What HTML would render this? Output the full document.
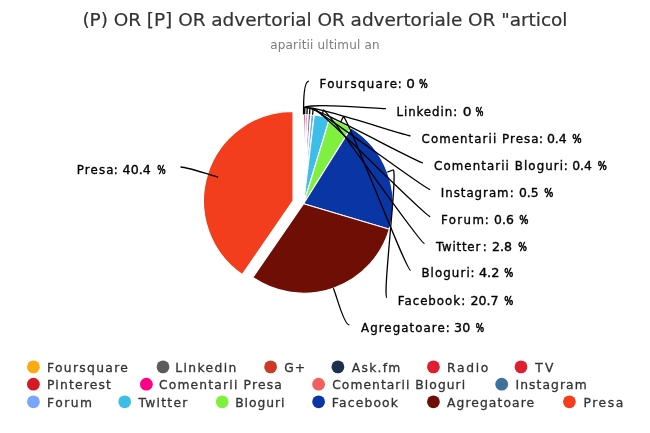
<!DOCTYPE html>
<html><head><meta charset="utf-8"><title>chart</title><style>html,body{margin:0;padding:0;background:#fff}</style></head><body>
<svg width="650" height="433" viewBox="0 0 650 433" style="display:block;font-family:'DejaVu Sans','Liberation Sans',sans-serif">
<rect width="650" height="433" fill="#fff"/>
<text x="82.40" y="26.0" font-size="18.5" fill="#333" stroke="#333" stroke-width="0.2" textLength="485.03" lengthAdjust="spacing">(P) OR [P] OR advertorial OR advertoriale OR &quot;articol</text>
<text x="270.15" y="49.2" font-size="12" fill="#7c7c7c" textLength="109.47" lengthAdjust="spacing">aparitii ultimul an</text>
<path d="M303.6,203.75L303.60,114.25A89.5,89.5 0 0 1 305.85,114.28Z" fill="#FF0084" stroke="#fff" stroke-width="1.5" stroke-linejoin="round"/>
<path d="M303.6,203.75L305.85,114.28A89.5,89.5 0 0 1 308.10,114.36Z" fill="#F26060" stroke="#fff" stroke-width="1.5" stroke-linejoin="round"/>
<path d="M303.6,203.75L308.10,114.36A89.5,89.5 0 0 1 310.90,114.55Z" fill="#3F729B" stroke="#fff" stroke-width="1.5" stroke-linejoin="round"/>
<path d="M303.6,203.75L310.90,114.55A89.5,89.5 0 0 1 314.26,114.89Z" fill="#78A6F8" stroke="#fff" stroke-width="1.5" stroke-linejoin="round"/>
<path d="M303.6,203.75L314.26,114.89A89.5,89.5 0 0 1 329.65,118.12Z" fill="#3DBEE8" stroke="#fff" stroke-width="1.1" stroke-linejoin="round"/>
<path d="M303.6,203.75L329.65,118.12A89.5,89.5 0 0 1 351.08,127.88Z" fill="#80F040" stroke="#fff" stroke-width="1.1" stroke-linejoin="round"/>
<path d="M303.6,203.75L351.08,127.88A89.5,89.5 0 0 1 389.39,229.26Z" fill="#0A35A5" stroke="#fff" stroke-width="1.1" stroke-linejoin="round"/>
<path d="M303.6,203.75L389.39,229.26A89.5,89.5 0 0 1 252.83,277.46Z" fill="#6E0E05" stroke="#fff" stroke-width="1.1" stroke-linejoin="round"/>
<path d="M303.6,203.75L252.83,277.46A89.5,89.5 0 0 1 303.60,114.25Z" fill="#F23E1C" stroke="#fff" stroke-width="1.1" stroke-linejoin="round" transform="translate(-10.6,-2.9)"/>
<path d="M308.9,81.1C303.9,81.1 303.60,102.25 303.60,108.25L303.60,114.25" fill="none" stroke="#000" stroke-width="1.3"/>
<path d="M385.9,108.7C380.9,108.7 303.60,102.25 303.60,108.25L303.60,114.25" fill="none" stroke="#000" stroke-width="1.3"/>
<path d="M410.5,135.8C405.5,135.8 304.88,102.26 304.80,108.26L304.72,114.26" fill="none" stroke="#000" stroke-width="1.3"/>
<path d="M423.0,162.9C418.0,162.9 307.43,102.32 307.20,108.32L306.97,114.31" fill="none" stroke="#000" stroke-width="1.3"/>
<path d="M430.2,189.7C425.2,189.7 310.29,102.47 309.90,108.46L309.50,114.44" fill="none" stroke="#000" stroke-width="1.3"/>
<path d="M430.2,216.6C425.2,216.6 313.79,102.76 313.18,108.73L312.58,114.70" fill="none" stroke="#000" stroke-width="1.3"/>
<path d="M424.5,243.6C419.5,243.6 324.50,104.42 323.26,110.30L322.02,116.17" fill="none" stroke="#000" stroke-width="1.3"/>
<path d="M410.6,270.3C405.6,270.3 345.66,111.37 343.17,116.83L340.69,122.30" fill="none" stroke="#000" stroke-width="1.3"/>
<path d="M387.0,297.7C382.0,297.7 398.55,167.87 392.93,169.99L387.32,172.11" fill="none" stroke="#000" stroke-width="1.3"/>
<path d="M349.3,325.0C344.3,325.0 337.38,299.46 335.38,293.81L333.39,288.15" fill="none" stroke="#000" stroke-width="1.3"/>
<path d="M180.5,167.0C185.5,167.0 206.68,173.60 212.41,175.38L218.14,177.16" fill="none" stroke="#000" stroke-width="1.3"/>
<text x="319.50" y="88.0" font-size="11.8" fill="#000" stroke="#000" stroke-width="0.35" textLength="77.51" lengthAdjust="spacing">Foursquare</text>
<text x="397.68" y="88.0" font-size="11.8" fill="#000" stroke="#000" stroke-width="0.35">:</text>
<text x="406.29" y="88.0" font-size="11.8" fill="#000" stroke="#000" stroke-width="0.35" textLength="8.67" lengthAdjust="spacingAndGlyphs">0</text>
<text x="419.03" y="88.0" font-size="11.8" fill="#000" stroke="#000" stroke-width="0.6" textLength="8.76" lengthAdjust="spacingAndGlyphs">%</text>
<text x="396.50" y="115.6" font-size="11.8" fill="#000" stroke="#000" stroke-width="0.35" textLength="55.61" lengthAdjust="spacing">Linkedin</text>
<text x="453.33" y="115.6" font-size="11.8" fill="#000" stroke="#000" stroke-width="0.35">:</text>
<text x="462.77" y="115.6" font-size="11.8" fill="#000" stroke="#000" stroke-width="0.35" textLength="8.83" lengthAdjust="spacingAndGlyphs">0</text>
<text x="475.54" y="115.6" font-size="11.8" fill="#000" stroke="#000" stroke-width="0.6" textLength="7.95" lengthAdjust="spacingAndGlyphs">%</text>
<text x="421.57" y="142.7" font-size="11.8" fill="#000" stroke="#000" stroke-width="0.35" textLength="116.90" lengthAdjust="spacing">Comentarii Presa</text>
<text x="539.07" y="142.7" font-size="11.8" fill="#000" stroke="#000" stroke-width="0.35">:</text>
<text x="546.90" y="142.7" font-size="11.8" fill="#000" stroke="#000" stroke-width="0.35" textLength="19.94" lengthAdjust="spacingAndGlyphs">0.4</text>
<text x="572.31" y="142.7" font-size="11.8" fill="#000" stroke="#000" stroke-width="0.6" textLength="9.37" lengthAdjust="spacingAndGlyphs">%</text>
<text x="434.12" y="169.8" font-size="11.8" fill="#000" stroke="#000" stroke-width="0.35" textLength="128.90" lengthAdjust="spacing">Comentarii Bloguri</text>
<text x="563.68" y="169.8" font-size="11.8" fill="#000" stroke="#000" stroke-width="0.35">:</text>
<text x="572.15" y="169.8" font-size="11.8" fill="#000" stroke="#000" stroke-width="0.35" textLength="19.67" lengthAdjust="spacingAndGlyphs">0.4</text>
<text x="597.63" y="169.8" font-size="11.8" fill="#000" stroke="#000" stroke-width="0.6" textLength="9.06" lengthAdjust="spacingAndGlyphs">%</text>
<text x="440.86" y="196.6" font-size="11.8" fill="#000" stroke="#000" stroke-width="0.35" textLength="67.71" lengthAdjust="spacing">Instagram</text>
<text x="509.66" y="196.6" font-size="11.8" fill="#000" stroke="#000" stroke-width="0.35">:</text>
<text x="519.02" y="196.6" font-size="11.8" fill="#000" stroke="#000" stroke-width="0.35" textLength="19.64" lengthAdjust="spacingAndGlyphs">0.5</text>
<text x="544.34" y="196.6" font-size="11.8" fill="#000" stroke="#000" stroke-width="0.6" textLength="9.04" lengthAdjust="spacingAndGlyphs">%</text>
<text x="440.88" y="223.5" font-size="11.8" fill="#000" stroke="#000" stroke-width="0.35" textLength="43.12" lengthAdjust="spacing">Forum</text>
<text x="484.83" y="223.5" font-size="11.8" fill="#000" stroke="#000" stroke-width="0.35">:</text>
<text x="494.13" y="223.5" font-size="11.8" fill="#000" stroke="#000" stroke-width="0.35" textLength="19.69" lengthAdjust="spacingAndGlyphs">0.6</text>
<text x="519.31" y="223.5" font-size="11.8" fill="#000" stroke="#000" stroke-width="0.6" textLength="9.20" lengthAdjust="spacingAndGlyphs">%</text>
<text x="436.00" y="250.5" font-size="11.8" fill="#000" stroke="#000" stroke-width="0.35" textLength="44.26" lengthAdjust="spacing">Twitter</text>
<text x="482.66" y="250.5" font-size="11.8" fill="#000" stroke="#000" stroke-width="0.35">:</text>
<text x="492.05" y="250.5" font-size="11.8" fill="#000" stroke="#000" stroke-width="0.35" textLength="19.94" lengthAdjust="spacingAndGlyphs">2.8</text>
<text x="518.18" y="250.5" font-size="11.8" fill="#000" stroke="#000" stroke-width="0.6" textLength="8.63" lengthAdjust="spacingAndGlyphs">%</text>
<text x="421.40" y="277.2" font-size="11.8" fill="#000" stroke="#000" stroke-width="0.35" textLength="48.28" lengthAdjust="spacing">Bloguri</text>
<text x="470.41" y="277.2" font-size="11.8" fill="#000" stroke="#000" stroke-width="0.35">:</text>
<text x="478.92" y="277.2" font-size="11.8" fill="#000" stroke="#000" stroke-width="0.35" textLength="20.39" lengthAdjust="spacingAndGlyphs">4.2</text>
<text x="504.33" y="277.2" font-size="11.8" fill="#000" stroke="#000" stroke-width="0.6" textLength="9.00" lengthAdjust="spacingAndGlyphs">%</text>
<text x="397.83" y="304.6" font-size="11.8" fill="#000" stroke="#000" stroke-width="0.35" textLength="62.17" lengthAdjust="spacing">Facebook</text>
<text x="461.33" y="304.6" font-size="11.8" fill="#000" stroke="#000" stroke-width="0.35">:</text>
<text x="470.57" y="304.6" font-size="11.8" fill="#000" stroke="#000" stroke-width="0.35" textLength="28.08" lengthAdjust="spacingAndGlyphs">20.7</text>
<text x="504.33" y="304.6" font-size="11.8" fill="#000" stroke="#000" stroke-width="0.6" textLength="9.00" lengthAdjust="spacingAndGlyphs">%</text>
<text x="361.00" y="331.9" font-size="11.8" fill="#000" stroke="#000" stroke-width="0.35" textLength="83.80" lengthAdjust="spacing">Agregatoare</text>
<text x="445.66" y="331.9" font-size="11.8" fill="#000" stroke="#000" stroke-width="0.35">:</text>
<text x="454.09" y="331.9" font-size="11.8" fill="#000" stroke="#000" stroke-width="0.35" textLength="16.12" lengthAdjust="spacingAndGlyphs">30</text>
<text x="475.72" y="331.9" font-size="11.8" fill="#000" stroke="#000" stroke-width="0.6" textLength="8.35" lengthAdjust="spacingAndGlyphs">%</text>
<text x="76.70" y="173.9" font-size="11.8" fill="#000" stroke="#000" stroke-width="0.35" textLength="36.78" lengthAdjust="spacing">Presa</text>
<text x="113.67" y="173.9" font-size="11.8" fill="#000" stroke="#000" stroke-width="0.35">:</text>
<text x="122.63" y="173.9" font-size="11.8" fill="#000" stroke="#000" stroke-width="0.35" textLength="28.03" lengthAdjust="spacingAndGlyphs">40.4</text>
<text x="157.35" y="173.9" font-size="11.8" fill="#000" stroke="#000" stroke-width="0.6" textLength="8.48" lengthAdjust="spacingAndGlyphs">%</text>
<circle cx="33.4" cy="366.9" r="6.4" fill="#FBAA14"/>
<text x="47.00" y="371.9" font-size="12.3" fill="#333" stroke="#333" stroke-width="0.3" textLength="80.92" lengthAdjust="spacing">Foursquare</text>
<circle cx="163.0" cy="366.9" r="6.4" fill="#5C5C5C"/>
<text x="175.31" y="371.9" font-size="12.3" fill="#333" stroke="#333" stroke-width="0.3" textLength="60.94" lengthAdjust="spacing">Linkedin</text>
<circle cx="270.6" cy="366.9" r="6.4" fill="#CC3A27"/>
<text x="284.37" y="371.9" font-size="12.3" fill="#333" stroke="#333" stroke-width="0.3" textLength="20.76" lengthAdjust="spacing">G+</text>
<circle cx="337.9" cy="366.9" r="6.4" fill="#1C2F4F"/>
<text x="351.84" y="371.9" font-size="12.3" fill="#333" stroke="#333" stroke-width="0.3" textLength="48.37" lengthAdjust="spacing">Ask.fm</text>
<circle cx="433.4" cy="366.9" r="6.4" fill="#DD1F30"/>
<text x="447.00" y="371.9" font-size="12.3" fill="#333" stroke="#333" stroke-width="0.3" textLength="41.36" lengthAdjust="spacing">Radio</text>
<circle cx="521.0" cy="366.9" r="6.4" fill="#DD1F30"/>
<text x="535.22" y="371.9" font-size="12.3" fill="#333" stroke="#333" stroke-width="0.3" textLength="18.11" lengthAdjust="spacing">TV</text>
<circle cx="33.4" cy="384.2" r="6.4" fill="#D41A24"/>
<text x="47.00" y="389.4" font-size="12.3" fill="#333" stroke="#333" stroke-width="0.3" textLength="63.81" lengthAdjust="spacing">Pinterest</text>
<circle cx="146.4" cy="384.2" r="6.4" fill="#FF0084"/>
<text x="158.92" y="389.4" font-size="12.3" fill="#333" stroke="#333" stroke-width="0.3" textLength="122.95" lengthAdjust="spacing">Comentarii Presa</text>
<circle cx="318.6" cy="384.2" r="6.4" fill="#F26060"/>
<text x="332.19" y="389.4" font-size="12.3" fill="#333" stroke="#333" stroke-width="0.3" textLength="132.91" lengthAdjust="spacing">Comentarii Bloguri</text>
<circle cx="501.7" cy="384.2" r="6.4" fill="#3F729B"/>
<text x="515.42" y="389.4" font-size="12.3" fill="#333" stroke="#333" stroke-width="0.3" textLength="71.19" lengthAdjust="spacing">Instagram</text>
<circle cx="33.4" cy="401.8" r="6.4" fill="#78A6F8"/>
<text x="47.00" y="406.8" font-size="12.3" fill="#333" stroke="#333" stroke-width="0.3" textLength="45.06" lengthAdjust="spacing">Forum</text>
<circle cx="124.7" cy="401.8" r="6.4" fill="#3DBEE8"/>
<text x="138.57" y="406.8" font-size="12.3" fill="#333" stroke="#333" stroke-width="0.3" textLength="48.73" lengthAdjust="spacing">Twitter</text>
<circle cx="222.2" cy="401.8" r="6.4" fill="#80F040"/>
<text x="235.16" y="406.8" font-size="12.3" fill="#333" stroke="#333" stroke-width="0.3" textLength="49.32" lengthAdjust="spacing">Bloguri</text>
<circle cx="318.6" cy="401.8" r="6.4" fill="#0A35A5"/>
<text x="331.81" y="406.8" font-size="12.3" fill="#333" stroke="#333" stroke-width="0.3" textLength="66.15" lengthAdjust="spacing">Facebook</text>
<circle cx="433.4" cy="401.8" r="6.4" fill="#6E0E05"/>
<text x="446.98" y="406.8" font-size="12.3" fill="#333" stroke="#333" stroke-width="0.3" textLength="87.15" lengthAdjust="spacing">Agregatoare</text>
<circle cx="569.4" cy="401.8" r="6.4" fill="#F23E1C"/>
<text x="583.47" y="406.8" font-size="12.3" fill="#333" stroke="#333" stroke-width="0.3" textLength="39.75" lengthAdjust="spacing">Presa</text>
</svg>
</body></html>
